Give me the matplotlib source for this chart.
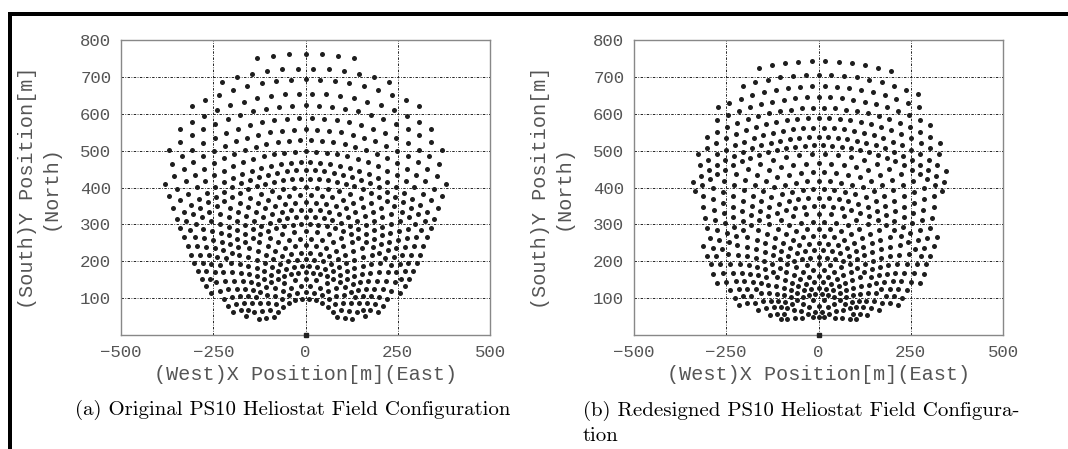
import numpy as np
import matplotlib.pyplot as plt
from matplotlib.path import Path
from matplotlib.patches import Rectangle

# ---------------- field data ----------------
# original PS10 field: angular step per zone [deg], row radii per zone [m]
left_steps = [11.0, 6.6, 4.4, 3.3]
left_first_offset = [0.5, 0.0, 0.5, 0.5]
left_rows = [
    [98, 116, 134, 152],
    [170, 188, 206, 224, 243, 262, 281],
    [300, 320, 340, 360, 380, 401],
    [424, 447, 469, 498, 528, 558, 589, 623, 655, 693, 723, 763],
]
# outline of the original field (east half, mirrored to the west)
left_edge_x = [0, 95, 118, 155, 202, 224, 250, 270, 293, 305, 314, 324, 332, 341, 348,
               357, 368, 375, 381, 387, 392, 372, 358, 330, 320, 285, 245, 238, 195, 150, 142, 0]
left_edge_y = [25, 32, 40, 46, 62, 76, 100, 116, 138, 162, 188, 210, 235, 264, 292,
               318, 352, 379, 412, 446, 490, 530, 560, 595, 620, 645, 675, 695, 710, 730, 757, 772]

# redesigned field
right_steps = [18.0, 9.0, 6.0, 4.2, 2.8]
right_first_offset = [0.0, 0.5, 0.0, 0.5, 0.5]
right_rows = [
    [50, 64, 79, 95],
    [111, 127, 143, 159, 176, 193],
    [211, 230, 249, 268, 288, 308, 329],
    [350, 372, 395, 418, 442, 466, 490],
    [515, 537, 562, 589, 616, 645, 675, 706, 743],
]
# outline of the redesigned field, walked round from the south
right_edge_x = [0, 125, 180, 220, 245, 283, 308, 326, 326, 345, 345, 318, 288, 262, 222, 180, 140, 0,
                -172, -215, -255, -285, -285, -312, -312, -340, -345, -322, -322, -296, -290,
                -280, -243, -220, -180, -125]
right_edge_y = [42, 42, 60, 78, 110, 136, 178, 222, 378, 384, 500, 542, 622, 672, 700, 728, 742, 752,
                728, 682, 636, 620, 548, 540, 505, 490, 384, 378, 225, 205, 180,
                138, 118, 80, 62, 42]

x_ticks = [-500, -250, 0, 250, 500]
y_ticks = [100, 200, 300, 400, 500, 600, 700, 800]

captions = ["(a) Original PS10 Heliostat Field Configuration",
            "(b) Redesigned PS10 Heliostat Field Configura-\ntion"]


def heliostats(steps, offsets, rows, ex, ey):
    xs, ys = [], []
    for step, off0, radii in zip(steps, offsets, rows):
        k = np.arange(-int(90 / step) - 2, int(90 / step) + 3)
        for i, r in enumerate(radii):
            off = (off0 + 0.5 * i) % 1.0
            th = np.radians((k + off) * step)
            xs.append(r * np.sin(th))
            ys.append(r * np.cos(th))
    xs = np.concatenate(xs)
    ys = np.concatenate(ys)
    inside = Path(np.column_stack([ex, ey])).contains_points(np.column_stack([xs, ys]))
    return xs[inside], ys[inside]


lx = np.concatenate([left_edge_x, [-v for v in left_edge_x[::-1]]])
ly = np.concatenate([left_edge_y, left_edge_y[::-1]])
fields = [heliostats(left_steps, left_first_offset, left_rows, lx, ly),
          heliostats(right_steps, right_first_offset, right_rows, right_edge_x, right_edge_y)]

# ---------------- figure ----------------
W, H = 1068, 449
fig = plt.figure(figsize=(W / 100, H / 100), dpi=100)
grey = '#555555'
mono = 'Liberation Mono'

ax_lefts = [121 / W, 634 / W]
for n, (hx, hy) in enumerate(fields):
    ax = fig.add_axes([ax_lefts[n], 1 - 335 / H, 369 / W, 295 / H])
    ax.scatter(hx, hy, s=13, color='#1e1e1e', linewidths=0, zorder=3)
    ax.plot([0], [0], marker='s', ms=2.5, color='#222222', clip_on=False, zorder=4)
    ax.set_xlim(-500, 500)
    ax.set_ylim(0, 800)
    ax.set_xticks(x_ticks)
    ax.set_yticks(y_ticks)
    ax.set_xticklabels(['\u2212500', '\u2212250', '0', '250', '500'])
    ax.tick_params(length=0, pad=7, labelsize=12.5, labelcolor=grey)
    for lab in ax.get_xticklabels() + ax.get_yticklabels():
        lab.set_family(mono)
    ax.grid(True, color='#222222', lw=0.7, linestyle=(0, (2.5, 1.5, 0.8, 1.5)), zorder=1)
    for sp in ax.spines.values():
        sp.set_color('#888888')
        sp.set_linewidth(1.0)
    ax.set_xlabel('(West)X Position[m](East)', family=mono, fontsize=14.5, color=grey, labelpad=4)
    ax.set_ylabel('(South)Y Position[m]\n(North)', family=mono, fontsize=14.5, color=grey,
                  labelpad=15, linespacing=1.2)

fig.text(75 / W, 1 - 410 / H, captions[0], family='cmr10', fontsize=15, va='center', ha='left')
fig.text(583 / W, 1 - 423 / H, captions[1], family='cmr10', fontsize=15, va='center', ha='left',
         linespacing=1.4)

# page frame: rule along the top and down the left side
fig.add_artist(Rectangle((8 / W, 1 - 16 / H), 1.0, 4 / H, transform=fig.transFigure,
                         color='black', lw=0))
fig.add_artist(Rectangle((8 / W, 0.0), 4 / W, 1 - 12 / H, transform=fig.transFigure,
                         color='black', lw=0))

fig.savefig('out.png', dpi=100)
